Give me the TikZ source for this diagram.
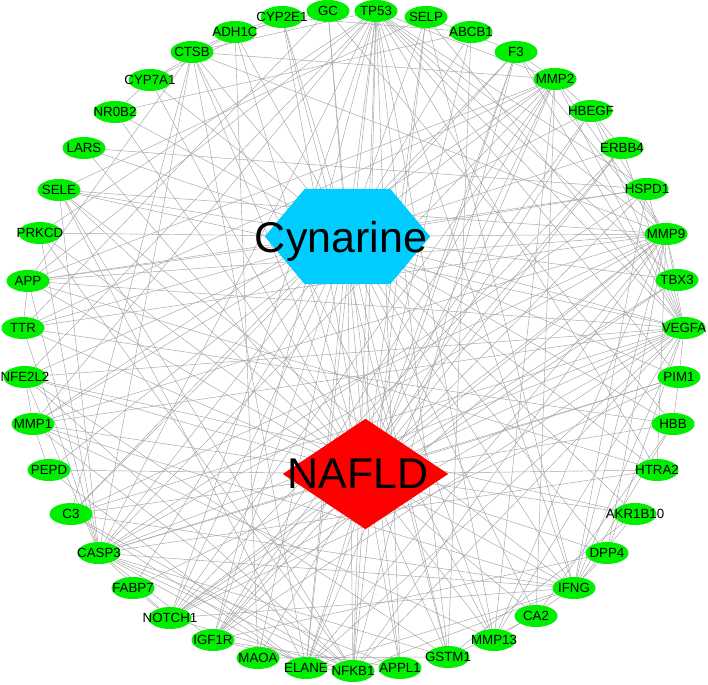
\documentclass[tikz,border=0pt]{standalone}
\usepackage{fontspec}
\setmainfont{Liberation Sans}
\usetikzlibrary{shapes.geometric}
\definecolor{genegreen}{RGB}{0,238,0}
\definecolor{hubcyan}{RGB}{0,204,255}
\definecolor{hubred}{RGB}{255,0,0}
\pgfdeclarelayer{edgelayer}
\pgfsetlayers{edgelayer,main}
\begin{document}
\begin{tikzpicture}[x=1pt,y=-1pt,
  gene/.style={ellipse, fill=genegreen, minimum width=43pt, minimum height=22pt, inner sep=0pt},
  glabel/.style={font=\fontsize{13.3}{14}\selectfont, inner sep=0pt},
  hublabel/.style={font=\fontsize{43}{45}\selectfont, inner sep=0pt, anchor=base},
  hubbox/.style={rectangle, inner sep=0pt, draw=none},
  edge/.style={draw=black!36, line width=0.45pt}]
\useasboundingbox (0,0) rectangle (708,684);
% genes on the circle
\foreach \n/\x/\y in {GC/328/11, TP53/376/11, SELP/426/17, ABCB1/471/32, F3/516/52,
  MMP2/555/79, HBEGF/591/111, ERBB4/622/148, HSPD1/647/189, MMP9/666/234,
  TBX3/677/280, VEGFA/684/328, PIM1/679/377, HBB/673/424, HTRA2/657/470,
  AKR1B10/635/514, DPP4/607/553, IFNG/574/588, CA2/536/616, MMP13/494/640,
  GSTM1/448/657, APPL1/400/668, NFKB1/353/671, ELANE/306/668, MAOA/258/658,
  IGF1R/213/640, NOTCH1/170/618, FABP7/133/588, CASP3/99/553, C3/71/514,
  PEPD/49/470, MMP1/33/424, NFE2L2/25/377, TTR/23/328, APP/28/281,
  PRKCD/40/233, SELE/59/190, LARS/84/148, NR0B2/115/112, CYP7A1/150/80,
  CTSB/192/52, ADH1C/235/32, CYP2E1/282/17}
{
  \node[gene] (\n) at (\x,\y) {};
  \node[glabel] at (\n) {\n};
}
% hubs
\node[hubbox, minimum width=165pt, minimum height=95pt] (cyn) at (347.5,236.5) {};
\fill[hubcyan] ([xshift=40pt]cyn.north west) -- ([xshift=-40pt]cyn.north east) -- (cyn.east)
  -- ([xshift=-40pt]cyn.south east) -- ([xshift=40pt]cyn.south west) -- (cyn.west) -- cycle;
\node[hublabel] at (341,252) {Cynarine};
\node[hubbox, minimum width=165pt, minimum height=110pt] (naf) at (365.5,474) {};
\fill[hubred] (naf.north) -- (naf.east) -- (naf.south) -- (naf.west) -- cycle;
\node[hublabel] at (358,488) {NAFLD};
% edges
\begin{pgfonlayer}{edgelayer}
\foreach \n in {GC, TP53, SELP, ABCB1, F3, MMP2, HBEGF, ERBB4, HSPD1, MMP9,
  TBX3, VEGFA, PIM1, HBB, HTRA2, AKR1B10, DPP4, IFNG, CA2, MMP13,
  GSTM1, APPL1, NFKB1, ELANE, MAOA, IGF1R, NOTCH1, FABP7, CASP3, C3,
  PEPD, MMP1, NFE2L2, TTR, APP, PRKCD, SELE, LARS, NR0B2, CYP7A1,
  CTSB, ADH1C, CYP2E1}
{
  \draw[edge] (cyn.center) -- (\n);
  \draw[edge] (naf.center) -- (\n);
}
\foreach \a/\b in {TP53/CASP3, TP53/NFKB1, TP53/VEGFA, TP53/MMP9, TP53/MMP2, TP53/NOTCH1,
  TP53/IGF1R, TP53/PRKCD, TP53/NFE2L2, TP53/HSPD1, TP53/APP, TP53/IFNG, TP53/MMP1,
  TP53/CTSB, TP53/PIM1, TP53/TBX3, TP53/HTRA2, TP53/ELANE, TP53/MMP13, TP53/APPL1, TP53/GSTM1,
  VEGFA/MMP9, VEGFA/MMP2, VEGFA/IGF1R, VEGFA/NFKB1, VEGFA/CASP3, VEGFA/IFNG, VEGFA/HBEGF,
  VEGFA/F3, VEGFA/SELE, VEGFA/SELP, VEGFA/NOTCH1, VEGFA/MMP1, VEGFA/MMP13, VEGFA/APP,
  VEGFA/ERBB4, VEGFA/HSPD1, VEGFA/ELANE, VEGFA/C3, VEGFA/NFE2L2, VEGFA/DPP4, VEGFA/PIM1,
  MMP9/MMP2, MMP9/MMP1, MMP9/MMP13, MMP9/CASP3, MMP9/NFKB1, MMP9/ELANE, MMP9/IFNG, MMP9/SELE,
  MMP9/TTR, MMP9/APP, MMP9/CTSB, MMP9/F3, MMP9/HBEGF, MMP9/IGF1R, MMP9/C3, MMP9/NOTCH1,
  MMP9/HTRA2, MMP9/DPP4, MMP9/TBX3,
  CASP3/NFKB1, CASP3/HSPD1, CASP3/APP, CASP3/IFNG, CASP3/MMP2, CASP3/PRKCD, CASP3/HTRA2,
  CASP3/CTSB, CASP3/NOTCH1, CASP3/IGF1R, CASP3/NFE2L2, CASP3/GSTM1, CASP3/PIM1, CASP3/APPL1,
  CASP3/ELANE, CASP3/SELE, CASP3/TTR,
  MMP2/MMP1, MMP2/MMP13, MMP2/APP, MMP2/CTSB, MMP2/TTR, MMP2/ELANE, MMP2/IGF1R, MMP2/NOTCH1,
  MMP2/F3, MMP2/HBEGF, MMP2/CA2,
  IFNG/NFKB1, IFNG/SELE, IFNG/SELP, IFNG/C3, IFNG/DPP4, IFNG/ELANE, IFNG/HSPD1, IFNG/NOTCH1,
  IFNG/MMP1, IFNG/MMP13, IFNG/AKR1B10, IFNG/HBB,
  NFKB1/NOTCH1, NFKB1/ELANE, NFKB1/SELE, NFKB1/SELP, NFKB1/C3, NFKB1/IGF1R, NFKB1/PRKCD,
  NFKB1/NFE2L2, NFKB1/MMP1, NFKB1/F3,
  ADH1C/CYP2E1, ADH1C/CYP7A1, CYP2E1/CYP7A1, CYP2E1/GSTM1, CYP2E1/ABCB1, CYP7A1/NR0B2,
  NR0B2/ABCB1, ABCB1/GSTM1, GSTM1/MAOA, MAOA/ADH1C, GC/TTR, GC/HBB, HBB/TTR, F3/SELP, F3/C3,
  SELP/SELE, SELE/ELANE, ELANE/C3, C3/CTSB, CTSB/APP, APP/TTR, ERBB4/HBEGF, HBEGF/IGF1R,
  ERBB4/NOTCH1, ERBB4/IGF1R, TBX3/NOTCH1, PIM1/NOTCH1, CA2/GSTM1, AKR1B10/GSTM1,
  AKR1B10/NFE2L2, NFE2L2/GSTM1, HTRA2/APP, FABP7/NOTCH1, APPL1/IGF1R, MMP13/MMP1, MMP13/CTSB,
  DPP4/IGF1R, CA2/HBB, PIM1/HBB, HSPD1/APP, ELANE/PEPD, LARS/HSPD1, PEPD/MMP1, CTSB/ELANE,
  F3/ELANE, GC/ADH1C, ADH1C/CTSB, MMP1/NFE2L2}
{
  \draw[edge] (\a) -- (\b);
}
\end{pgfonlayer}
\end{tikzpicture}
\end{document}
